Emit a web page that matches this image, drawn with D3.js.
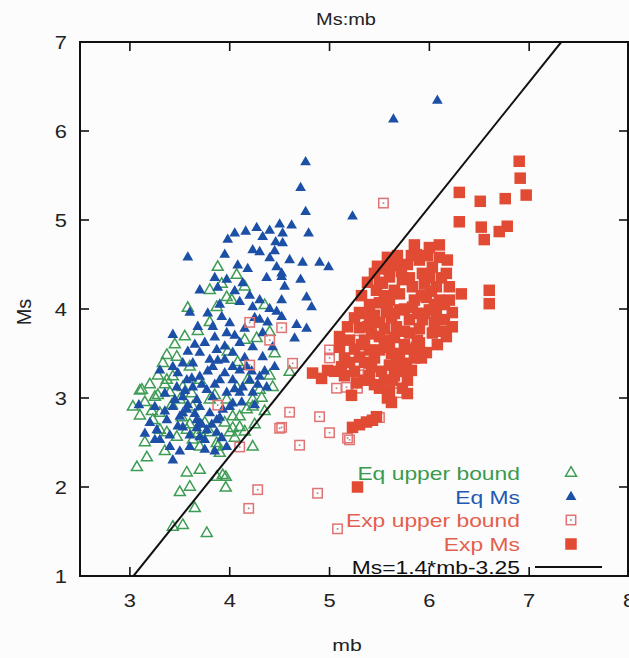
<!DOCTYPE html>
<html>
<head>
<meta charset="utf-8">
<script src="https://cdn.jsdelivr.net/npm/d3@7"></script>
<style>
  html, body { margin: 0; padding: 0; background: #fcfcfd; }
  svg { display: block; }
  text { font-family: "Liberation Sans", Arial, Helvetica, sans-serif; }
</style>
</head>
<body>
<svg id="chart" width="629" height="658"></svg>
<script>
// ---- data ([mb, Ms]) ----
const eqUpper = [
  [3.88,4.47],[4.07,4.38],[3.80,4.21],[4.02,4.10],[3.87,4.02],[3.58,4.01],[4.35,4.04],[4.40,3.74],
  [4.27,3.67],[3.37,3.48],[3.33,3.39],[3.47,3.46],[3.43,3.24],[3.40,3.06],[3.12,3.09],[3.25,3.01],
  [3.03,2.90],[3.30,2.83],[3.23,2.75],[3.50,2.98],[3.37,2.61],[3.47,2.56],[3.57,2.64],[3.63,2.53],
  [3.70,2.45],[3.80,2.61],[3.87,2.49],[4.00,2.61],[4.10,2.67],[4.03,2.79],[4.17,2.87],[4.23,2.98],
  [4.30,3.09],[4.43,3.12],[4.18,3.20],[4.07,3.12],[3.97,2.98],[3.80,2.98],[3.63,2.90],[3.53,3.12],
  [3.37,3.20],[3.60,3.35],[4.60,3.29],[3.17,2.33],[3.07,2.22],[3.57,2.16],[3.70,2.19],[3.93,2.13],
  [4.23,2.45],[3.90,2.38],[3.73,2.64],[4.15,3.65],[3.97,4.13],[3.10,3.08],[3.28,3.03],[3.87,2.11],
  [3.96,2.11],[3.60,2.00],[3.50,1.94],[3.96,1.99],[3.65,1.76],[3.53,1.57],[3.43,1.55],[3.77,1.48],
  [3.88,2.45],[3.30,2.64],[4.10,2.79],[4.23,2.90],[4.03,2.66],[3.70,3.20],[3.85,3.03],[3.55,3.69],
  [3.20,3.15],[3.15,2.95],[3.22,2.85],[3.10,2.80],[3.28,3.25],[3.35,3.15],[3.42,2.92],[3.52,2.78],
  [3.60,2.70],[3.68,2.60],[3.75,2.72],[3.95,2.72],[4.05,2.55],[4.15,2.62],[4.25,2.70],[4.35,2.85],
  [4.32,3.00],[4.40,3.25],[4.08,3.40],[3.98,3.52],[3.62,3.05],[3.45,3.60],[3.68,3.75],[3.80,3.85],
  [3.92,4.28],[4.15,4.25],[4.45,3.50],[3.15,2.50],[3.35,2.40]
];
const eqMs = [
  [6.08,6.34],[5.64,6.13],[4.76,5.65],[4.71,5.36],[4.76,5.09],[5.23,5.04],[4.62,4.94],[4.53,4.85],
  [4.79,4.85],[4.53,4.74],[4.73,4.52],[4.90,4.52],[4.99,4.47],[4.52,4.40],[4.71,4.33],[4.77,4.13],
  [4.82,4.02],[4.52,4.10],[4.52,3.91],[4.67,3.82],[4.77,3.78],[4.65,3.67],[4.16,4.87],[4.27,4.91],
  [4.33,4.81],[4.46,4.75],[4.23,4.66],[4.30,4.64],[3.58,4.58],[3.95,4.61],[4.08,4.49],[4.40,4.57],
  [4.47,4.47],[4.37,4.35],[4.52,4.36],[4.13,4.29],[3.70,4.21],[3.97,4.33],[3.88,4.24],[4.10,4.08],
  [4.23,4.02],[4.30,4.10],[3.60,3.96],[4.47,3.97],[3.92,3.91],[3.83,3.80],[3.68,3.80],[4.00,3.84],
  [4.30,3.88],[3.43,3.71],[4.33,3.73],[3.97,3.73],[4.10,3.62],[4.23,3.57],[4.03,3.51],[3.70,3.51],
  [3.87,3.54],[3.80,3.43],[3.63,3.39],[3.30,3.31],[3.43,3.35],[3.53,3.39],[4.33,3.46],[4.43,3.57],
  [4.03,3.35],[4.17,3.35],[3.83,3.35],[3.70,3.24],[3.90,3.20],[3.57,3.20],[4.03,3.20],[4.13,3.12],
  [4.30,3.24],[4.37,3.12],[3.47,3.12],[3.63,3.12],[3.77,3.09],[3.53,3.01],[3.67,2.98],[3.83,3.01],
  [3.97,3.06],[4.10,3.06],[4.23,3.06],[3.43,2.90],[3.57,2.87],[3.70,2.90],[3.80,2.83],[3.09,2.92],
  [4.03,2.94],[3.93,2.87],[3.50,2.79],[3.67,2.75],[3.87,2.75],[3.37,2.75],[3.27,2.64],[3.30,2.53],
  [3.53,2.67],[3.77,2.64],[3.70,2.56],[3.40,2.45],[3.97,2.45],[3.43,2.30],[3.75,2.53],[3.25,2.53],
  [3.75,2.42],[3.53,2.83],[3.70,2.72],[3.87,2.61],[3.67,2.66],[3.98,4.78],[4.10,3.31],[3.95,3.43],
  [4.20,3.20],[3.85,3.15],
  [3.35,3.05],[3.45,2.98],[3.55,3.08],[3.62,3.22],[3.72,3.15],[3.78,3.30],[3.88,3.42],[3.95,3.28],
  [4.05,3.10],[4.15,3.45],[4.22,3.30],[4.28,3.15],[3.58,2.92],[3.65,2.82],[3.72,2.70],[3.82,2.70],
  [3.90,2.78],[4.00,2.90],[3.48,2.68],[3.40,2.58],[3.60,2.58],[3.35,2.85],[3.25,2.90],[3.48,3.28],
  [3.58,3.52],[3.75,3.62],[3.85,3.68],[3.95,3.58],[4.05,3.70],[4.15,3.78],[4.25,3.90],[4.38,3.85],
  [4.40,4.00],[4.20,4.15],[4.05,4.20],[3.90,4.05],[3.78,3.95],[3.65,3.60],[4.45,3.35],[4.35,3.30],
  [3.92,2.55],[3.60,2.45],[3.50,2.40],[3.85,2.40],[4.12,2.95],[4.25,2.92],[3.20,2.72],[3.15,2.60],
  [4.55,4.25],[4.60,4.55],[4.45,4.65],[4.18,4.45],[3.85,4.35],[4.50,4.95],[4.40,4.88],[4.05,4.85]
];
const expUpper = [
  [4.20,3.85],[4.52,3.79],[4.40,3.65],[4.63,3.39],[4.20,3.37],[3.88,2.92],[5.00,3.54],[5.00,3.45],
  [5.07,3.11],[5.17,3.12],[4.60,2.84],[4.90,2.79],[4.50,2.66],[5.00,2.61],[4.70,2.47],[4.10,2.45],
  [5.18,2.55],[5.54,5.19],[5.29,3.65],[5.29,3.26],[5.39,3.28],[5.28,3.11],[5.68,3.06],[4.52,2.67],
  [5.20,2.53],[5.50,2.78],[4.28,1.97],[4.19,1.76],[4.88,1.93],[5.08,1.53]
];
const expMs = [
  [6.90,5.66],[6.91,5.47],[6.97,5.28],[6.30,5.31],[6.51,5.21],[6.76,5.24],[6.30,4.98],[6.52,4.92],
  [6.55,4.78],[6.70,4.87],[6.78,4.93],[6.60,4.21],[6.60,4.06],[6.32,4.17],[6.10,4.72],[6.00,4.69],
  [5.87,4.61],[5.62,4.49],[6.10,4.58],[6.17,4.40],[6.20,4.25],[6.23,3.96],[6.23,3.80],[6.17,3.69],
  [5.97,3.51],[5.87,3.57],[5.77,3.39],[5.82,3.31],[5.67,3.43],[5.60,3.37],[5.50,3.69],[5.40,3.84],
  [5.30,3.79],[5.30,3.46],[5.40,3.54],[5.47,4.21],[5.53,4.29],[5.60,4.36],[5.60,4.44],[5.73,4.33],
  [5.83,4.25],[5.93,4.40],[6.03,4.47],[6.07,4.25],[5.97,4.13],[5.83,4.02],[5.70,3.99],[5.57,3.96],
  [5.50,4.07],[5.67,3.80],[5.80,3.73],[5.93,3.88],[6.07,3.96],[6.10,4.10],[6.03,3.73],[5.90,3.62],
  [5.60,3.57],[5.50,3.54],[5.10,3.69],[5.10,3.57],[4.98,3.31],[4.83,3.28],[4.92,3.22],[5.22,3.03],
  [5.27,3.17],[5.50,3.11],[5.60,3.07],[5.73,3.11],[5.63,3.20],[5.23,2.67],[5.37,2.73],[5.47,2.79],
  [5.30,3.96],[5.38,3.80],[5.28,2.00],[5.70,4.17],[5.80,3.88],[5.60,4.10],[5.75,3.60],[6.00,3.99],
  [5.90,4.55],[6.15,3.88],[5.45,3.93],[5.65,4.21],[5.55,3.78],[5.70,4.49],[5.20,3.65],[5.35,3.65],
  [5.45,4.40],[5.50,4.30],[5.55,4.15],[5.58,4.02],[5.62,3.90],[5.65,3.68],[5.70,3.50],[5.72,3.30],
  [5.78,3.20],[5.80,4.35],[5.85,4.10],[5.88,3.95],[5.90,3.78],[5.92,3.45],[5.95,4.28],[5.98,4.60],
  [6.02,4.20],[6.05,3.85],[6.08,3.60],[6.12,4.35],[6.15,4.05],[6.18,4.55],[5.40,4.05],[5.35,3.95],
  [5.42,3.72],[5.45,3.45],[5.52,3.30],[5.35,3.40],[5.25,3.55],[5.15,3.45],[5.18,3.80],[5.25,3.90],
  [5.32,4.15],[5.40,3.25],[5.65,3.25],[5.75,4.00],[5.85,3.45],[5.95,3.95],[6.00,4.35],[5.78,4.50],
  [5.68,4.60],[5.72,4.42],[5.50,3.85],[5.55,3.65],[5.62,3.50],[5.05,3.30],[5.15,3.25],[5.45,3.15],
  [5.58,3.00],[5.30,2.70],[5.43,2.75],[6.13,3.75],
  [5.38,4.30],[5.48,4.48],[5.58,4.58],[5.85,4.72],[5.92,4.15],[6.05,4.05],[5.78,3.55],[5.68,3.35],
  [5.55,3.20],[5.88,3.65],[5.25,3.30],[5.12,3.35],[5.35,3.20],[5.82,4.60],[6.20,4.10],[5.42,3.35],
  [5.65,3.95],[5.75,3.75],[5.55,4.45],[5.32,3.60],[5.20,3.40],[5.62,2.95],[5.78,3.05]
];
const xTicks = [3, 4, 5, 6, 7, 8];
const yTicks = [1, 2, 3, 4, 5, 6, 7];
const lineSlope = 1.4, lineIntercept = -3.25;
const legendLabels = ["Eq upper bound", "Eq Ms", "Exp upper bound", "Exp Ms", "Ms=1.4*mb-3.25"];
const titleText = "Ms:mb", xLabel = "mb", yLabel = "Ms";

// ---- styles ----
const C = {
  green: "#3e9c55", blue: "#1c4fa6", openRed: "#e07373", red: "#e14b33",
  greenText: "#3a9a4e", blueText: "#2358b0", redText: "#e3604c"
};

const svg = d3.select("#chart");
const L = 80, R = 629, T = 42, B = 576;
const x = d3.scaleLinear().domain([2.5, 8]).range([L, R]);
const y = d3.scaleLinear().domain([1, 7]).range([B, T]);

svg.append("defs").append("clipPath").attr("id", "clip")
  .append("rect").attr("x", L).attr("y", T).attr("width", 628 - L).attr("height", B - T);

function sText(parent, tx, ty, str, anchor, size, sx, color, rot) {
  const g = parent.append("g").attr("transform",
    `translate(${tx},${ty}) scale(${sx},1)` + (rot ? ` rotate(${rot})` : ""));
  g.append("text").attr("text-anchor", anchor).attr("font-size", size)
    .attr("fill", color).text(str);
  return g;
}

const plot = svg.append("g").attr("clip-path", "url(#clip)");
const tri = d3.symbol().type(d3.symbolTriangle);
const SQ = 11.5, SQh = SQ / 2;

// Eq upper bound: open green triangles
plot.append("g").selectAll("path").data(eqUpper).join("path")
  .attr("d", tri.size(52)())
  .attr("transform", d => `translate(${x(d[0])},${y(d[1])})`)
  .attr("fill", "none").attr("stroke", C.green).attr("stroke-width", 1.5);

// Eq Ms: filled blue triangles
plot.append("g").selectAll("path").data(eqMs).join("path")
  .attr("d", tri.size(50)())
  .attr("transform", d => `translate(${x(d[0])},${y(d[1])})`)
  .attr("fill", C.blue);

// Exp upper bound: open squares with dot
const ou = plot.append("g").selectAll("g").data(expUpper).join("g")
  .attr("transform", d => `translate(${x(d[0])},${y(d[1])})`);
ou.append("rect").attr("x", -4.7).attr("y", -4.7).attr("width", 9.4).attr("height", 9.4)
  .attr("fill", "none").attr("stroke", C.openRed).attr("stroke-width", 1.5);
ou.append("rect").attr("x", -0.8).attr("y", -0.8).attr("width", 1.6).attr("height", 1.6)
  .attr("fill", "#b08080");

// Exp Ms: filled red squares
plot.append("g").selectAll("rect").data(expMs).join("rect")
  .attr("x", d => x(d[0]) - SQh).attr("y", d => y(d[1]) - SQh)
  .attr("width", SQ).attr("height", SQ).attr("fill", C.red);

// Reference line Ms = 1.4*mb - 3.25
const mb0 = (1 - lineIntercept) / lineSlope, mb1 = (7 - lineIntercept) / lineSlope;
plot.append("line")
  .attr("x1", x(mb0)).attr("y1", y(lineSlope * mb0 + lineIntercept))
  .attr("x2", x(mb1)).attr("y2", y(lineSlope * mb1 + lineIntercept))
  .attr("stroke", "#111").attr("stroke-width", 2);

// Legend
const legX = 520, symX = 571;
const legRows = [473, 497, 520, 544, 567];
const legColors = [C.greenText, C.blueText, C.redText, C.redText, "#111"];
const lg = svg.append("g");
legendLabels.forEach((lab, i) => {
  sText(lg, legX, legRows[i] + 6.5, lab, "end", 18, 1.27, legColors[i]);
});
lg.append("path").attr("d", tri.size(52)()).attr("transform", `translate(${symX},${legRows[0]})`)
  .attr("fill", "none").attr("stroke", C.green).attr("stroke-width", 1.5);
lg.append("path").attr("d", tri.size(50)()).attr("transform", `translate(${symX},${legRows[1]})`)
  .attr("fill", C.blue);
lg.append("rect").attr("x", symX - 4.7).attr("y", legRows[2] - 4.7).attr("width", 9.4).attr("height", 9.4)
  .attr("fill", "none").attr("stroke", C.openRed).attr("stroke-width", 1.5);
lg.append("rect").attr("x", symX - 0.8).attr("y", legRows[2] - 0.8).attr("width", 1.6).attr("height", 1.6)
  .attr("fill", "#b08080");
lg.append("rect").attr("x", symX - SQh).attr("y", legRows[3] - SQh).attr("width", SQ).attr("height", SQ)
  .attr("fill", C.red);
lg.append("line").attr("x1", 535).attr("x2", 602).attr("y1", legRows[4]).attr("y2", legRows[4])
  .attr("stroke", "#111").attr("stroke-width", 2);

// Frame
svg.append("rect").attr("x", L).attr("y", T).attr("width", 628 - L).attr("height", B - T)
  .attr("fill", "none").attr("stroke", "#111").attr("stroke-width", 2);

// Ticks (inward, mirrored)
const tk = 9;
const tg = svg.append("g").attr("stroke", "#111").attr("stroke-width", 1.6);
xTicks.filter(v => v < 8).forEach(v => {
  tg.append("line").attr("x1", x(v)).attr("x2", x(v)).attr("y1", B).attr("y2", B - tk);
  tg.append("line").attr("x1", x(v)).attr("x2", x(v)).attr("y1", T).attr("y2", T + tk);
});
yTicks.filter(v => v > 1 && v < 7).forEach(v => {
  tg.append("line").attr("x1", L).attr("x2", L + tk).attr("y1", y(v)).attr("y2", y(v));
  tg.append("line").attr("x1", 628).attr("x2", 628 - tk).attr("y1", y(v)).attr("y2", y(v));
});

// Tick labels
const lab = svg.append("g");
xTicks.forEach(v => sText(lab, x(v), 607, String(v), "middle", 19, 1.15, "#222"));
yTicks.forEach(v => sText(lab, 67, y(v) + 7, String(v), "end", 19, 1.15, "#222"));

// Titles
sText(svg, 346, 25, titleText, "middle", 16, 1.25, "#222");
sText(svg, 347, 651, xLabel, "middle", 17, 1.25, "#222");
sText(svg, 31, 312, yLabel, "middle", 20, 1, "#222", -90);
</script>
</body>
</html>
